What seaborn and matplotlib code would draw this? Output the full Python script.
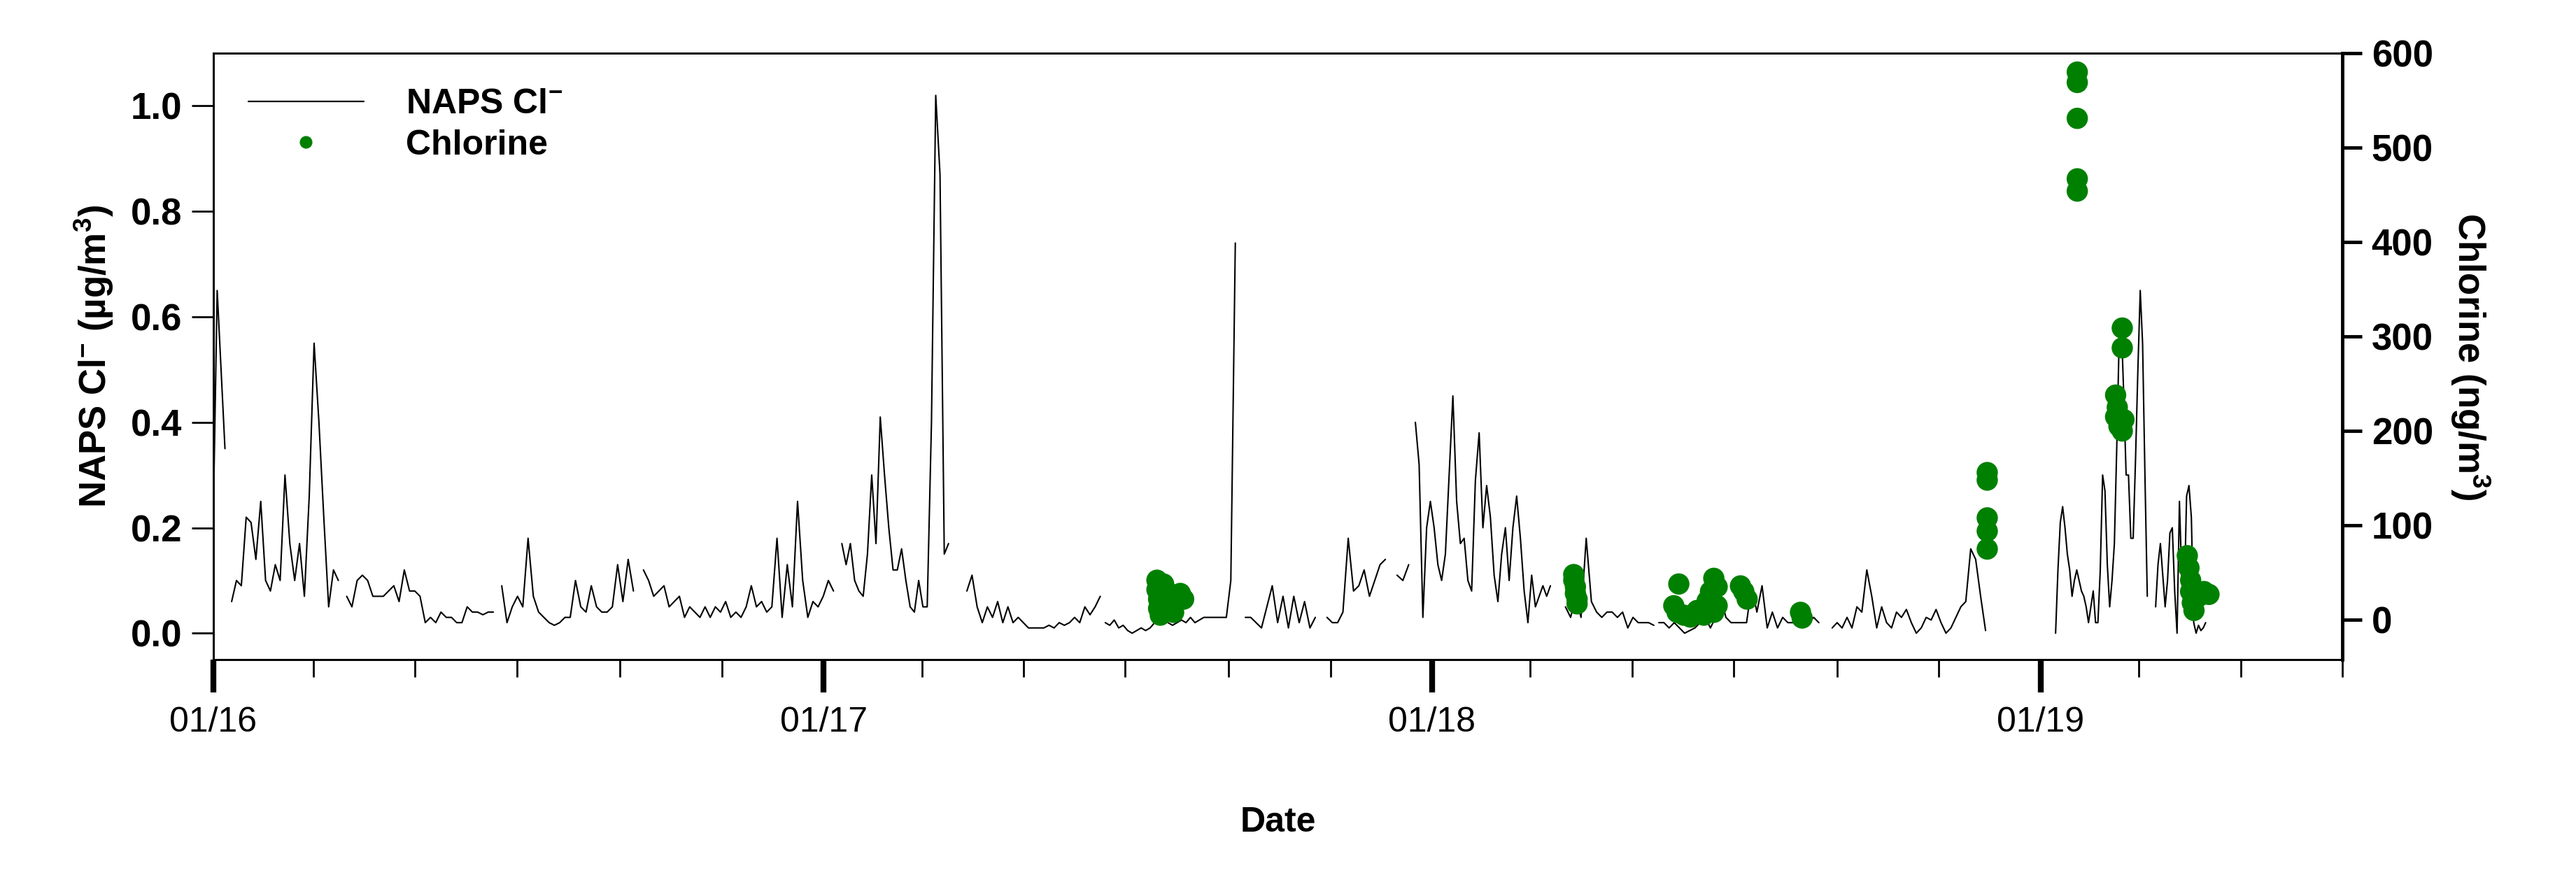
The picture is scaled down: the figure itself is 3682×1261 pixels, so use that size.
import numpy as np
import pandas as pd
import matplotlib
matplotlib.use("Agg")
import matplotlib.pyplot as plt
import matplotlib.dates as mdates
import seaborn as sns

# NAPS Cl- segments: (start date, end date, values in ug/m3)
naps_segmente = [
    ("2016-01-01", "2016-01-08", [0.22, 0.65, 0.50, 0.35]),
    ("2016-01-12", "2016-03-16", [0.06, 0.10, 0.09, 0.22, 0.21, 0.14, 0.25, 0.10, 0.08, 0.13, 0.10,
                                  0.30, 0.17, 0.10, 0.17, 0.07, 0.26, 0.55, 0.40, 0.22, 0.05, 0.12, 0.10]),
    ("2016-03-21", "2016-06-17", [0.07, 0.05, 0.10, 0.11, 0.10, 0.07, 0.07, 0.07, 0.08, 0.09, 0.06, 0.12,
                                  0.08, 0.08, 0.07, 0.02, 0.03, 0.02, 0.04, 0.03, 0.03, 0.02, 0.02, 0.05,
                                  0.04, 0.04, 0.035, 0.04, 0.04]),
    ("2016-06-22", "2016-09-09", [0.09, 0.02, 0.05, 0.07, 0.05, 0.18, 0.07, 0.04, 0.03, 0.02, 0.015, 0.02,
                                  0.03, 0.03, 0.10, 0.05, 0.04, 0.09, 0.05, 0.04, 0.04, 0.05, 0.13, 0.06,
                                  0.14, 0.08]),
    ("2016-09-15", "2017-01-07", [0.12, 0.10, 0.07, 0.08, 0.09, 0.05, 0.06, 0.07, 0.03, 0.05, 0.04, 0.03,
                                  0.05, 0.03, 0.05, 0.04, 0.06, 0.03, 0.04, 0.03, 0.05, 0.09, 0.05, 0.06,
                                  0.04, 0.05, 0.18, 0.03, 0.13, 0.05, 0.25, 0.10, 0.03, 0.06, 0.05, 0.07,
                                  0.10, 0.08]),
    ("2017-01-12", "2017-03-17", [0.17, 0.13, 0.17, 0.10, 0.08, 0.07, 0.15, 0.30, 0.17, 0.41, 0.30, 0.20,
                                  0.12, 0.12, 0.16, 0.10, 0.05, 0.04, 0.10, 0.05, 0.05, 0.40, 1.02, 0.87,
                                  0.15, 0.17]),
    ("2017-03-28", "2017-06-16", [0.08, 0.11, 0.05, 0.02, 0.05, 0.03, 0.06, 0.02, 0.05, 0.02, 0.03, 0.02,
                                  0.01, 0.01, 0.01, 0.01, 0.015, 0.01, 0.02, 0.015, 0.02, 0.03, 0.02, 0.05,
                                  0.035, 0.05, 0.07]),
    ("2017-06-19", "2017-09-05", [0.02, 0.015, 0.025, 0.01, 0.015, 0.005, 0.0, 0.005, 0.01, 0.005, 0.01,
                                  0.02, 0.03, 0.025, 0.02, 0.015, 0.02, 0.025, 0.02, 0.03, 0.02, 0.025,
                                  0.03, 0.03, 0.03, 0.03, 0.03, 0.03, 0.10, 0.74]),
    ("2017-09-11", "2017-10-23", [0.03, 0.03, 0.02, 0.01, 0.05, 0.09, 0.02, 0.07, 0.01, 0.07, 0.02, 0.06,
                                  0.01, 0.03]),
    ("2017-10-30", "2017-12-04", [0.03, 0.02, 0.02, 0.04, 0.18, 0.08, 0.09, 0.12, 0.07, 0.10, 0.13, 0.14]),
    ("2017-12-11", "2017-12-18", [0.11, 0.10, 0.13]),
    ("2017-12-22", "2018-03-13", [0.40, 0.32, 0.03, 0.20, 0.25, 0.20, 0.13, 0.10, 0.15, 0.30, 0.45, 0.25,
                                  0.17, 0.18, 0.10, 0.08, 0.29, 0.38, 0.20, 0.28, 0.22, 0.11, 0.06, 0.15,
                                  0.20, 0.10, 0.20, 0.26, 0.18, 0.08, 0.02, 0.11, 0.05, 0.07, 0.09, 0.07,
                                  0.09]),
    ("2018-03-22", "2018-05-14", [0.05, 0.03, 0.07, 0.03, 0.18, 0.06, 0.04, 0.03, 0.04, 0.04, 0.03, 0.04,
                                  0.01, 0.03, 0.02, 0.02, 0.02, 0.015]),
    ("2018-05-17", "2018-08-21", [0.02, 0.02, 0.01, 0.02, 0.01, 0.0, 0.005, 0.01, 0.02, 0.03, 0.01, 0.03,
                                  0.07, 0.03, 0.02, 0.02, 0.02, 0.02, 0.09, 0.04, 0.09, 0.01, 0.04, 0.01,
                                  0.03, 0.02, 0.02, 0.02, 0.02, 0.02, 0.03, 0.02]),
    ("2018-08-29", "2018-11-29", [0.01, 0.02, 0.01, 0.03, 0.01, 0.05, 0.04, 0.12, 0.07, 0.01, 0.05, 0.02,
                                  0.01, 0.04, 0.03, 0.045, 0.02, 0.0, 0.01, 0.03, 0.025, 0.045, 0.02, 0.0,
                                  0.01, 0.03, 0.05, 0.06, 0.16, 0.14, 0.07, 0.005]),
    ("2019-01-10", "2019-03-06", [0.0, 0.12, 0.21, 0.24, 0.20, 0.15, 0.12, 0.07, 0.10, 0.12, 0.10, 0.08,
                                  0.07, 0.05, 0.02, 0.05, 0.08, 0.02, 0.02, 0.12, 0.30, 0.27, 0.13, 0.05,
                                  0.10, 0.17, 0.35, 0.55, 0.58, 0.45, 0.30, 0.30, 0.18, 0.18, 0.33, 0.50,
                                  0.65, 0.55, 0.30, 0.07]),
    ("2019-03-11", "2019-04-10", [0.05, 0.13, 0.17, 0.11, 0.05, 0.10, 0.19, 0.20, 0.08, 0.0, 0.25, 0.10,
                                  0.06, 0.26, 0.28, 0.22, 0.02, 0.0, 0.015, 0.005, 0.01, 0.02]),
]

# Chlorine (ng/m3)
chlor_datum = ["2017-07-20", "2017-07-20", "2017-07-21", "2017-07-21", "2017-07-22", "2017-07-24",
               "2017-07-26", "2017-07-28", "2017-07-30", "2017-08-03", "2017-08-05",
               "2018-03-27", "2018-03-27", "2018-03-28", "2018-03-28", "2018-03-29", "2018-03-29",
               "2018-05-29", "2018-05-26", "2018-05-28", "2018-06-01", "2018-06-05", "2018-06-09",
               "2018-06-13", "2018-06-15", "2018-06-17", "2018-06-19", "2018-06-21", "2018-06-21",
               "2018-06-19", "2018-07-05", "2018-07-07", "2018-07-09", "2018-08-10", "2018-08-11",
               "2018-11-30", "2018-11-30", "2018-11-30", "2018-11-30", "2018-11-30",
               "2019-01-23", "2019-01-23", "2019-01-23", "2019-01-23", "2019-01-23",
               "2019-02-19", "2019-02-19", "2019-02-15", "2019-02-16", "2019-02-15", "2019-02-17",
               "2019-02-19", "2019-02-20",
               "2019-03-30", "2019-03-31", "2019-04-01", "2019-04-01", "2019-04-02", "2019-04-03",
               "2019-04-06", "2019-04-09", "2019-04-12"]
chlor_wert = [42, 32, 22, 12, 5, 38, 30, 20, 8, 28, 22,
              48, 42, 35, 28, 22, 17,
              38, 15, 8, 5, 3, 10, 5, 20, 30, 44, 35, 15, 8, 36, 30, 22, 8, 2,
              156, 148, 108, 94, 75,
              580, 569, 531, 467, 454,
              309, 288, 238, 225, 215, 205, 200, 212,
              68, 55, 42, 30, 18, 10, 25, 30, 27]

zeilen = []
for nr, (start, ende, werte) in enumerate(naps_segmente):
    daten = pd.date_range(start, ende, periods=len(werte))
    for d, w in zip(daten, werte):
        zeilen.append({"datum": d, "wert": w, "segment": nr})
df_naps = pd.DataFrame(zeilen)
df_chlor = pd.DataFrame({"datum": pd.to_datetime(chlor_datum), "wert": chlor_wert})

sns.set_style("ticks")
plt.rcParams["font.family"] = ["Liberation Sans", "DejaVu Sans"]
plt.rcParams["mathtext.fontset"] = "custom"
plt.rcParams["mathtext.rm"] = "Liberation Sans:bold"
plt.rcParams["mathtext.bf"] = "Liberation Sans:bold"
plt.rcParams["mathtext.it"] = "Liberation Sans:bold"
for k in ["text.color", "axes.labelcolor", "xtick.color", "ytick.color", "axes.edgecolor"]:
    plt.rcParams[k] = "black"

fig = plt.figure(figsize=(36.82, 12.61), dpi=100)
ax = fig.add_axes([0.0828, 0.2522, 0.9093 - 0.0828, 0.9397 - 0.2522])
ax2 = ax.twinx()

sns.lineplot(data=df_naps, x="datum", y="wert", units="segment", estimator=None,
             color="black", lw=1.5, ax=ax, legend=False)
sns.scatterplot(data=df_chlor, x="datum", y="wert", color="#008000", s=480,
                edgecolor="none", ax=ax2, legend=False, zorder=3)

ax.set_xlim(pd.Timestamp("2016-01-01"), pd.Timestamp("2019-07-01"))
ax.set_ylim(-0.05, 1.1)
ax2.set_ylim(-42, 600)
ax.set_yticks([0.0, 0.2, 0.4, 0.6, 0.8, 1.0])
ax2.set_yticks([0, 100, 200, 300, 400, 500, 600])
ax.yaxis.set_major_formatter(matplotlib.ticker.FormatStrFormatter("%.1f"))

ax.xaxis.set_major_locator(mdates.YearLocator())
ax.xaxis.set_major_formatter(mdates.DateFormatter("%m/%y"))
ax.xaxis.set_minor_locator(mdates.MonthLocator(bymonth=[3, 5, 7, 9, 11]))

for sp in ax.spines.values():
    sp.set_linewidth(2)
for sp in ax2.spines.values():
    sp.set_linewidth(2)
ax2.spines["right"].set_linewidth(3.5)

ax.tick_params(axis="x", which="major", length=34, width=6, direction="out", labelsize=36, pad=14)
ax.tick_params(axis="x", which="minor", length=18, width=2, direction="out")
ax.tick_params(axis="y", length=22, width=2, labelsize=38, pad=10)
ax2.tick_params(axis="y", length=20, width=3.5, labelsize=38, pad=10)
for lab in ax.get_yticklabels() + ax2.get_yticklabels():
    lab.set_fontweight("bold")

ax.set_xlabel("Date", fontsize=36, fontweight="bold", labelpad=70)
ax.set_ylabel("NAPS Cl$^{-}$ (µg/m$^{3}$)", fontsize=38, fontweight="bold", labelpad=16)
ax2.set_ylabel("Chlorine (ng/m$^{3}$)", fontsize=38, fontweight="bold", rotation=270, labelpad=60)

linie = matplotlib.lines.Line2D([], [], color="black", lw=1.6)
punkt = matplotlib.lines.Line2D([], [], color="#008000", marker="o", ls="none", ms=12)
ax2.legend([linie, punkt], ["NAPS Cl$^{-}$", "Chlorine"], loc="upper left", frameon=False,
           prop={"size": 36, "weight": "bold"}, handlelength=3.3, handletextpad=1.2,
           borderaxespad=0.6, labelspacing=0.25)

fig.savefig("out.png", dpi=100)
